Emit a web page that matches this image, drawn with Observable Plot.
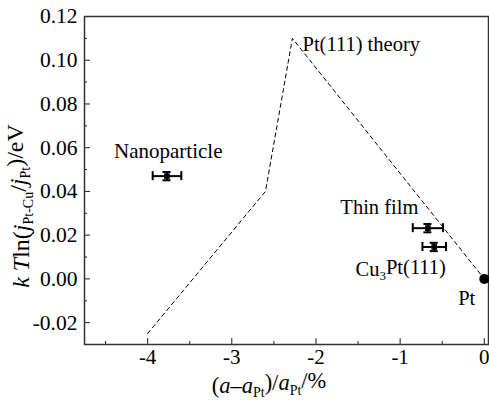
<!DOCTYPE html>
<html><head><meta charset="utf-8">
<script src="https://cdn.jsdelivr.net/npm/d3@7"></script>
<script src="https://cdn.jsdelivr.net/npm/@observablehq/plot@0.6"></script>
<style>
body{margin:0;background:#fff}
svg, svg text, svg tspan{font-family:"Liberation Serif","Times New Roman",serif !important}
</style>
</head><body><div id="chart"></div>
<script>
// Theory curve (dashed)
const theoryX = [-4.0, -2.6, -2.28, 0.0];
const theoryY = [-0.025, 0.040, 0.110, 0.0];
// Experimental points with error bars
const sampleNames = ["Nanoparticle", "Thin film", "Cu3Pt(111)"];
const sampleX = [-3.77, -0.67, -0.595];
const sampleY = [0.047, 0.0232, 0.0146];
const sampleXErr = [0.17, 0.18, 0.14];
const sampleYErr = [0.0019, 0.0019, 0.0019];
// Pt reference point
const ptX = [0];
const ptY = [0];
// Labels
const labelText = ["Pt(111) theory", "Nanoparticle", "Thin film", "Pt"];
const labelX = [-2.16, -3.755, -1.71, -0.31];
const labelY = [0.1073, 0.0585, 0.0325, -0.0088];
const labelAnchor = ["start", "middle", "start", "start"];
const cuLabelX = [-1.53];
const cuLabelY = [0.0044];
// Ticks
const xTicks = [-4, -3, -2, -1, 0];
const xMinor = [-4.5, -3.5, -2.5, -1.5, -0.5];
const yTicks = [-0.02, 0.00, 0.02, 0.04, 0.06, 0.08, 0.10, 0.12];
const yMinor = [-0.01, 0.01, 0.03, 0.05, 0.07, 0.09, 0.11];
const xDomain = [-4.75, 0.05];
const yDomain = [-0.03, 0.12];

const theory = theoryX.map((x, i) => ({x, y: theoryY[i]}));
const samples = sampleNames.map((n, i) => ({name: n, x: sampleX[i], y: sampleY[i], ex: sampleXErr[i], ey: sampleYErr[i]}));
const labels = labelText.map((t, i) => ({t, x: labelX[i], y: labelY[i], a: labelAnchor[i]}));

const W = 489, H = 400, mL = 84, mR = 1, mT = 16, mB = 56;
const pxX = (xDomain[1] - xDomain[0]) / (W - mL - mR);
const pxY = (yDomain[1] - yDomain[0]) / (H - mT - mB);
const capH = 4.5 * pxY, capW = 4 * pxX;
const FF = "'Liberation Serif', 'Times New Roman', serif";

const plot = Plot.plot({
  width: W, height: H,
  marginLeft: mL, marginRight: mR, marginTop: mT, marginBottom: mB,
  style: {fontFamily: FF, fontSize: "20px", color: "#000", background: "#fff"},
  x: {domain: xDomain},
  y: {domain: yDomain},
  marks: [
    Plot.axisX(xTicks, {tickSize: 0, tickPadding: 5, fontSize: 21, fontFamily: FF, label: null, tickFormat: d => String(d)}),
    Plot.axisY(yTicks, {tickSize: 0, tickPadding: 7, fontSize: 21.5, fontFamily: FF, label: null, tickFormat: d => d.toFixed(2)}),
    // inward ticks
    Plot.ruleX(xTicks, {x: d => d, y1: yDomain[0], y2: yDomain[0] + 6 * pxY, stroke: "#222"}),
    Plot.ruleX(xMinor, {x: d => d, y1: yDomain[0], y2: yDomain[0] + 3 * pxY, stroke: "#222"}),
    Plot.ruleY(yTicks, {y: d => d, x1: xDomain[0], x2: xDomain[0] + 6 * pxX, stroke: "#222"}),
    Plot.ruleY(yMinor, {y: d => d, x1: xDomain[0], x2: xDomain[0] + 3 * pxX, stroke: "#222"}),
    Plot.frame({stroke: "#333", strokeWidth: 1.5}),
    // theory dashed line
    Plot.line(theory, {x: "x", y: "y", stroke: "#000", strokeWidth: 1, strokeDasharray: "4,3.5"}),
    // horizontal error bars
    Plot.link(samples, {x1: d => d.x - d.ex, x2: d => d.x + d.ex, y1: "y", y2: "y", stroke: "#000", strokeWidth: 2}),
    Plot.ruleX(samples, {x: d => d.x - d.ex, y1: d => d.y - capH, y2: d => d.y + capH, stroke: "#000", strokeWidth: 2}),
    Plot.ruleX(samples, {x: d => d.x + d.ex, y1: d => d.y - capH, y2: d => d.y + capH, stroke: "#000", strokeWidth: 2}),
    // vertical error bars
    Plot.ruleX(samples, {x: "x", y1: d => d.y - d.ey, y2: d => d.y + d.ey, stroke: "#000", strokeWidth: 2}),
    Plot.ruleY(samples, {y: d => d.y - d.ey, x1: d => d.x - capW, x2: d => d.x + capW, stroke: "#000", strokeWidth: 2}),
    Plot.ruleY(samples, {y: d => d.y + d.ey, x1: d => d.x - capW, x2: d => d.x + capW, stroke: "#000", strokeWidth: 2}),
    Plot.dot(samples, {x: "x", y: "y", symbol: "square", r: 3.2, fill: "#000"}),
    // Pt point
    Plot.dot(ptX.map((x, i) => ({x, y: ptY[i]})), {x: "x", y: "y", r: 5, fill: "#000"}),
    // labels
    Plot.text(labels.filter(d => d.a === "start"), {x: "x", y: "y", text: "t", textAnchor: "start", fontSize: 20.5, fontFamily: FF, fill: "#000"}),
    Plot.text(labels.filter(d => d.a === "middle"), {x: "x", y: "y", text: "t", textAnchor: "middle", fontSize: 21, fontFamily: FF, fill: "#000"}),
    Plot.text(cuLabelX.map((x, i) => ({x, y: cuLabelY[i], t: "Cu3Pt(111)"})), {x: "x", y: "y", text: "t", textAnchor: "start", fontSize: 20.5, fontFamily: FF, fill: "#000", className: "cu3pt"})
  ]
});

document.getElementById("chart").appendChild(plot);

const svg = d3.select(plot);
// Cu3Pt(111) with subscript
svg.selectAll(".cu3pt text").each(function() {
  const t = d3.select(this);
  t.text(null);
  t.append("tspan").text("Cu");
  t.append("tspan").attr("dy", "0.3em").attr("font-size", 13).text("3");
  t.append("tspan").attr("dy", "-0.3em").text("Pt(111)");
});

// Axis titles
const sx = plot.scale("x"), sy = plot.scale("y");
const cx = (sx.range[0] + sx.range[1]) / 2;
const cy = (sy.range[0] + sy.range[1]) / 2;

const xl = svg.append("text").attr("x", cx - 17).attr("y", 393).attr("text-anchor", "middle").attr("font-size", 22.5).attr("fill", "#000");
xl.append("tspan").text("(");
xl.append("tspan").attr("font-style", "italic").text("a");
xl.append("tspan").text("\u2013");
xl.append("tspan").attr("font-style", "italic").text("a");
xl.append("tspan").attr("dy", "0.3em").attr("font-size", 14).text("Pt");
xl.append("tspan").attr("dy", "-0.3em").text(")/");
xl.append("tspan").attr("font-style", "italic").text("a");
xl.append("tspan").attr("dy", "0.3em").attr("font-size", 14).text("Pt");
xl.append("tspan").attr("dy", "-0.3em").text("/%");

const yl = svg.append("text").attr("transform", `translate(29,${cy + 26}) rotate(-90)`).attr("text-anchor", "middle").attr("font-size", 24).attr("fill", "#000");
yl.append("tspan").attr("font-style", "italic").text("k T");
yl.append("tspan").text("ln(");
yl.append("tspan").attr("font-style", "italic").text("j");
yl.append("tspan").attr("dy", "0.3em").attr("font-size", 14).text("Pt-Cu");
yl.append("tspan").attr("dy", "-0.3em").text("/");
yl.append("tspan").attr("font-style", "italic").text("j");
yl.append("tspan").attr("dy", "0.3em").attr("font-size", 14).text("Pt");
yl.append("tspan").attr("dy", "-0.3em").text(")/eV");

// enforce serif font on every text
svg.selectAll("text, tspan").style("font-family", FF);
</script>
</body></html>
